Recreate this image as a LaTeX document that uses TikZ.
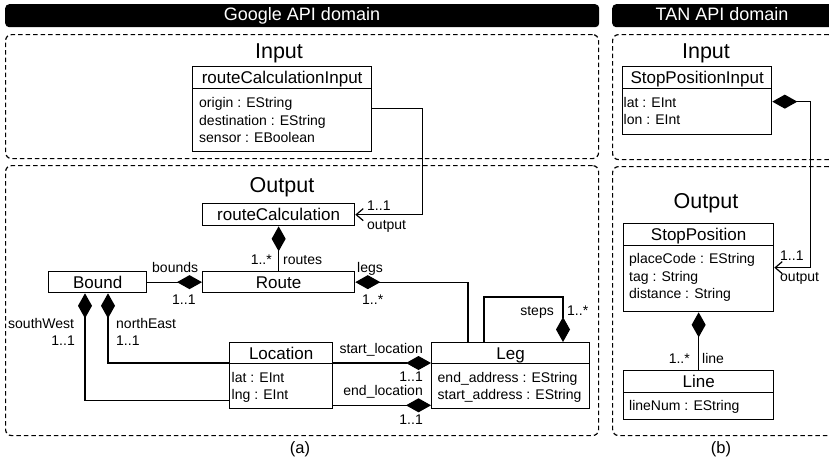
\documentclass[tikz,border=0pt]{standalone}
\usepackage{fontspec}
\setmainfont{Liberation Sans}
\usetikzlibrary{arrows.meta}
\newcommand\fLab{\fontsize{14}{17.5}\selectfont}
\newcommand\fHead{\fontsize{17}{20}\selectfont}
\newcommand\fTitle{\fontsize{21.5}{25}\selectfont}
\newcommand\fBar{\fontsize{18}{21}\selectfont}
\newcommand\fCap{\fontsize{16.5}{20}\selectfont}
\begin{document}
\begin{tikzpicture}[x=1pt,y=-1pt,
  region/.style={draw, dash pattern=on 4.5pt off 3pt, line width=1.2pt, rounded corners=6pt, inner sep=0pt, anchor=north west},
  bar/.style={fill=black, rounded corners=4pt, inner sep=0pt, anchor=north west},
  bartext/.style={text=white, font=\fBar, inner sep=0pt, anchor=base},
  title/.style={font=\fTitle, inner sep=0pt, anchor=base},
  cls/.style={draw, line width=1.3pt, inner sep=0pt, anchor=north west, font=\fHead, text height=12.2pt, text depth=0pt},
  attrbox/.style={draw, line width=1.3pt, inner sep=0pt, anchor=north west},
  attrtext/.style={anchor=north west, align=left, inner sep=0pt, font=\fLab},
  lab/.style={font=\fLab, inner sep=0pt},
  conn/.style={line width=1.2pt},
  compS/.style={conn, {Diamond[length=25pt,width=14pt]}-},
  compE/.style={conn, -{Diamond[length=25pt,width=14pt]}},
  assoc/.style={conn, -{Straight Barb[length=7pt,width=12pt]}},
  compassoc/.style={conn, {Diamond[length=25pt,width=14pt]}-{Straight Barb[length=7pt,width=12pt]}}
]
\useasboundingbox (0,0) rectangle (829,461);

% domain bars
\node[bar, minimum width=594pt, minimum height=23pt] (gbar) at (5,4) {};
\node[bartext] (gbart) at (302,20) {Google API domain};
\node[bar, minimum width=222pt, minimum height=23pt] (tbar) at (612,4) {};
\node[bartext] (tbart) at (722,20) {TAN API domain};

% regions
\node[region, minimum width=593pt, minimum height=124pt] (gin) at (5,34) {};
\node[region, minimum width=593pt, minimum height=270pt] (gout) at (5,165) {};
\node[region, minimum width=222pt, minimum height=125pt] (tin) at (612,34) {};
\node[region, minimum width=222pt, minimum height=269pt] (tout) at (612,166) {};

% titles
\node[title] (ginT) at (279,58) {Input};
\node[title] (goutT) at (282,192) {Output};
\node[title] (tinT) at (706,58) {Input};
\node[title] (toutT) at (706,208.7) {Output};

% classes
\node[cls, minimum width=179pt, minimum height=22pt] (rci) at (192,66) {routeCalculationInput};
\node[attrbox, minimum width=179pt, minimum height=63pt] (rciA) at (192,88) {};
\node[attrtext] (rciT) at (199,97.5) {origin : EString\\destination : EString\\sensor : EBoolean};

\node[cls, minimum width=152pt, minimum height=22pt] (rc) at (202,203) {routeCalculation};
\node[cls, minimum width=152pt, minimum height=21pt] (route) at (202,271) {Route};
\node[cls, minimum width=98pt, minimum height=21pt] (bound) at (48,271) {Bound};

\node[cls, minimum width=103pt, minimum height=21pt] (loc) at (229,342) {Location};
\node[attrbox, minimum width=103pt, minimum height=45pt] (locA) at (229,363) {};
\node[attrtext] (locT) at (231.5,372) {lat : EInt\\lng : EInt};

\node[cls, minimum width=158pt, minimum height=21pt] (leg) at (431,342) {Leg};
\node[attrbox, minimum width=158pt, minimum height=45pt] (legA) at (431,363) {};
\node[attrtext] (legT) at (437.5,372) {end\_address : EString\\start\_address : EString};

\node[cls, minimum width=149pt, minimum height=22pt] (spi) at (622,66) {StopPositionInput};
\node[attrbox, minimum width=149pt, minimum height=46pt] (spiA) at (622,88) {};
\node[attrtext] (spiT) at (623.5,96.7) {lat : EInt\\lon : EInt};

\node[cls, minimum width=150pt, minimum height=22pt] (sp) at (623,223) {StopPosition};
\node[attrbox, minimum width=150pt, minimum height=66pt] (spA) at (623,245) {};
\node[attrtext] (spT) at (629,253.3) {placeCode : EString\\tag : String\\distance : String};

\node[cls, minimum width=150pt, minimum height=22pt] (line) at (623,370) {Line};
\node[attrbox, minimum width=150pt, minimum height=27pt] (lineA) at (623,392) {};
\node[attrtext] (lineT) at (629,400) {lineNum : EString};

% connectors
\draw[assoc] ([yshift=11.5pt]rciA.east) -- ++(50,0) |- (rc.east);
\draw[compS] (rc.south) -- (route.north);
\draw[compE] (bound.east) -- (route.west);
\draw[compS] (route.east) -| ([xshift=37pt]leg.north west);
\draw[compE] ([xshift=53pt]leg.north west) -- ++(0,-45) -| ([xshift=132pt]leg.north west);
\draw[compS] ([xshift=37pt]bound.south west) |- ([yshift=-14.5pt]locA.west);
\draw[compS] ([xshift=60pt]bound.south west) |- (locA.north west);
\draw[compE] (locA.north east) -- (legA.north west);
\draw[compE] ([yshift=4pt]locA.south east) -- ([yshift=4pt]legA.south west);
\draw[compassoc] ([yshift=10pt]spiA.east) -- ++(38,0) |- ([yshift=11pt]spA.east);
\draw[compS] (spA.south) -- (line.north);

% labels
\node[lab, anchor=base west] (l1) at (367,210.7) {1..1};
\node[lab, anchor=base west] (l2) at (367,229) {output};
\node[lab, anchor=base east] (l3) at (272,264) {1..*};
\node[lab, anchor=base west] (l4) at (283,264) {routes};
\node[lab, anchor=base west] (l5) at (152,272.7) {bounds};
\node[lab, anchor=base west] (l6) at (172,304) {1..1};
\node[lab, anchor=base west] (l7) at (357,272.7) {legs};
\node[lab, anchor=base west] (l8) at (362,304) {1..*};
\node[lab, anchor=base east] (l9) at (554,315) {steps};
\node[lab, anchor=base west] (l10) at (567,315) {1..*};
\node[lab, anchor=base west] (l11) at (8,328.7) {southWest};
\node[lab, anchor=base east] (l12) at (75,345.7) {1..1};
\node[lab, anchor=base west] (l13) at (116,328.7) {northEast};
\node[lab, anchor=base west] (l14) at (116,345.7) {1..1};
\node[lab, anchor=base east] (l15) at (423,353) {start\_location};
\node[lab, anchor=base east] (l16) at (423,381.8) {1..1};
\node[lab, anchor=base east] (l17) at (423,395.8) {end\_location};
\node[lab, anchor=base east] (l18) at (423,424) {1..1};
\node[lab, anchor=base west] (l19) at (780,260.5) {1..1};
\node[lab, anchor=base west] (l20) at (780,281.7) {output};
\node[lab, anchor=base east] (l21) at (690,363.3) {1..*};
\node[lab, anchor=base west] (l22) at (702,363.3) {line};

\node[font=\fCap, inner sep=0pt, anchor=base] (capa) at (300,453.3) {(a)};
\node[font=\fCap, inner sep=0pt, anchor=base] (capb) at (721,453.3) {(b)};
\end{tikzpicture}
\end{document}
